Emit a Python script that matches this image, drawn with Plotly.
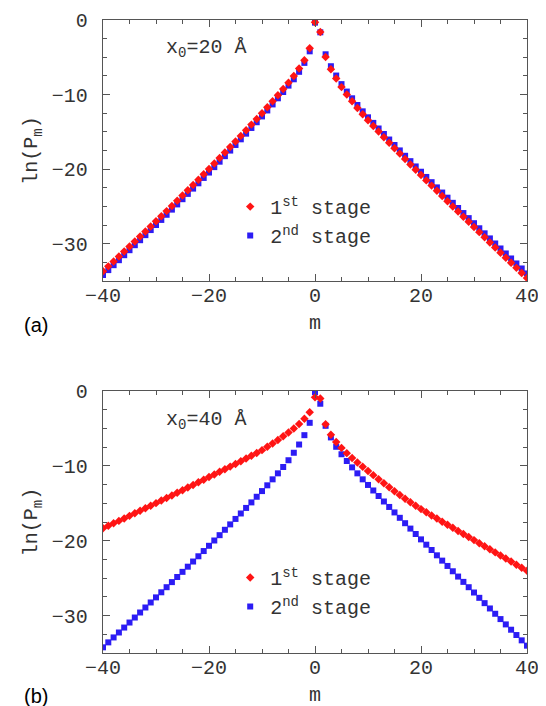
import plotly.graph_objects as go

# ---------------- data ----------------
m = list(range(-40, 41))

# panel (a): x0 = 20 A
stage1_a = [-33.7, -33.04, -32.38, -31.72, -31.05, -30.38, -29.71, -29.04, -28.36, -27.68,
            -27.0, -26.32, -25.63, -24.94, -24.24, -23.54, -22.84, -22.13, -21.42, -20.7,
            -19.98, -19.25, -18.52, -17.78, -17.04, -16.29, -15.54, -14.79, -14.03, -13.27,
            -12.5, -11.7, -10.9, -10.1, -9.25, -8.4, -7.5, -6.5, -5.4, -3.8,
            -0.3,
            -1.6, -4.95, -6.6, -7.85, -9.0, -10.0, -10.9, -11.8, -12.65, -13.45,
            -14.21, -14.96, -15.71, -16.45, -17.19, -17.92, -18.65, -19.37, -20.09, -20.8,
            -21.51, -22.21, -22.91, -23.61, -24.31, -25.0, -25.69, -26.38, -27.07, -27.76,
            -28.45, -29.14, -29.83, -30.52, -31.2, -31.88, -32.56, -33.24, -33.92, -34.6]
stage2_a = [-34.2, -33.54, -32.88, -32.21, -31.54, -30.87, -30.2, -29.53, -28.85, -28.17,
            -27.49, -26.81, -26.12, -25.43, -24.73, -24.03, -23.32, -22.61, -21.9, -21.18,
            -20.46, -19.73, -19.0, -18.26, -17.51, -16.76, -16.0, -15.24, -14.48, -13.71,
            -12.93, -12.13, -11.32, -10.5, -9.66, -8.8, -7.95, -6.95, -5.75, -4.2,
            -0.35,
            -1.65, -4.6, -6.2, -7.45, -8.6, -9.6, -10.5, -11.4, -12.25, -13.05,
            -13.8, -14.55, -15.29, -16.03, -16.76, -17.49, -18.21, -18.93, -19.64, -20.35,
            -21.05, -21.75, -22.45, -23.14, -23.83, -24.52, -25.21, -25.89, -26.57, -27.25,
            -27.93, -28.61, -29.29, -29.97, -30.64, -31.31, -31.98, -32.65, -33.32, -33.99]

# panel (b): x0 = 40 A
stage1_b = [-18.34, -18.01, -17.68, -17.35, -17.02, -16.68, -16.34, -16.0, -15.66, -15.32,
            -14.98, -14.64, -14.3, -13.95, -13.6, -13.25, -12.9, -12.55, -12.2, -11.85,
            -11.5, -11.15, -10.8, -10.45, -10.1, -9.74, -9.38, -9.02, -8.65, -8.28,
            -7.9, -7.45, -7.0, -6.55, -6.05, -5.55, -5.0, -4.4, -3.7, -2.85,
            -0.85,
            -1.0, -4.45, -5.85, -6.8, -7.6, -8.3, -8.95, -9.55, -10.13, -10.68,
            -11.24, -11.79, -12.33, -12.86, -13.38, -13.89, -14.39, -14.87, -15.33, -15.78,
            -16.2, -16.62, -17.04, -17.46, -17.87, -18.28, -18.69, -19.1, -19.51, -19.92,
            -20.33, -20.74, -21.15, -21.56, -21.97, -22.38, -22.79, -23.2, -23.61, -24.02]
stage2_b = [-34.24, -33.58, -32.92, -32.26, -31.6, -30.93, -30.26, -29.59, -28.92, -28.25,
            -27.57, -26.89, -26.21, -25.53, -24.85, -24.16, -23.47, -22.78, -22.08, -21.38,
            -20.68, -19.97, -19.26, -18.54, -17.82, -17.09, -16.36, -15.62, -14.88, -14.13,
            -13.37, -12.6, -11.8, -11.0, -10.15, -9.25, -8.25, -7.15, -5.9, -4.25,
            -0.15,
            -1.7, -4.65, -6.2, -7.45, -8.45, -9.35, -10.2, -11.0, -11.8, -12.55,
            -13.29, -14.03, -14.76, -15.49, -16.22, -16.94, -17.66, -18.38, -19.1, -19.82,
            -20.53, -21.24, -21.95, -22.66, -23.37, -24.08, -24.79, -25.5, -26.21, -26.92,
            -27.63, -28.34, -29.05, -29.76, -30.47, -31.18, -31.89, -32.6, -33.31, -34.02]

x_ticks = [-40, -20, 0, 20, 40]
y_ticks = [0, -10, -20, -30]
series_names = ["1<sup>st</sup> stage", "2<sup>nd</sup> stage"]
panel_labels = ["(a)", "(b)"]
x0_labels = ["x<sub>0</sub>=20 Å", "x<sub>0</sub>=40 Å"]

# ---------------- style ----------------
RED = "#ff1414"
BLUE = "#2c1cf4"
FRAME = "#555555"
TXT = "#333333"
MONO = "Liberation Mono"

fig = go.Figure()
panels = [(stage1_a, stage2_a, "x", "y", "legend"),
          (stage1_b, stage2_b, "x2", "y2", "legend2")]
for s1, s2, xa, ya, lg in panels:
    fig.add_trace(go.Scatter(x=m, y=s2, mode="markers", name=series_names[1],
                             marker=dict(symbol="square", size=6, color=BLUE),
                             xaxis=xa, yaxis=ya, legend=lg))
    fig.add_trace(go.Scatter(x=m, y=s1, mode="markers", name=series_names[0],
                             marker=dict(symbol="diamond", size=6.5, color=RED),
                             xaxis=xa, yaxis=ya, legend=lg))

def xaxis(anchor):
    return dict(range=[-40, 40], tickvals=x_ticks, ticks="inside", ticklen=7,
                tickwidth=1, tickcolor=FRAME,
                minor=dict(dtick=5, tick0=0, ticks="inside", ticklen=4, tickcolor=FRAME),
                showline=True, linecolor=FRAME, linewidth=1.3, mirror="allticks",
                showgrid=False, zeroline=False, anchor=anchor, automargin=False,
                tickfont=dict(family=MONO, size=20, color=TXT), ticklabelstandoff=-4,
                title=dict(text="m", font=dict(family=MONO, size=20, color=TXT), standoff=7))

def yaxis(anchor, domain):
    return dict(range=[-35, 0], tickvals=y_ticks, ticks="inside", ticklen=7,
                tickwidth=1, tickcolor=FRAME,
                minor=dict(dtick=2.5, tick0=0, ticks="inside", ticklen=4, tickcolor=FRAME),
                showline=True, linecolor=FRAME, linewidth=1.3, mirror="allticks",
                showgrid=False, zeroline=False, anchor=anchor, domain=domain, automargin=False,
                tickfont=dict(family=MONO, size=20, color=TXT), ticklabelstandoff=10,
                title=dict(text="ln(P<sub>m</sub>)", font=dict(family=MONO, size=20, color=TXT),
                           standoff=8))

legend_common = dict(xanchor="left", yanchor="top", bgcolor="rgba(0,0,0,0)",
                     font=dict(family=MONO, size=20, color=TXT), traceorder="reversed",
                     tracegroupgap=0)

fig.update_layout(
    width=546, height=706,
    margin=dict(l=95, r=27, t=12, b=61, autoexpand=False),
    paper_bgcolor="white", plot_bgcolor="white",
    xaxis=xaxis("y"), yaxis=yaxis("x", [0.5877, 1.0]),
    xaxis2=xaxis("y2"), yaxis2=yaxis("x2", [0.0, 0.4139]),
    legend=dict(x=0.30, y=0.736, **legend_common),
    legend2=dict(x=0.30, y=0.150, **legend_common),
    annotations=[
        dict(text=x0_labels[0], x=-28.5, y=-3.8, xref="x", yref="y", xanchor="left",
             showarrow=False, font=dict(family=MONO, size=20, color=TXT)),
        dict(text=x0_labels[1], x=-28.5, y=-3.9, xref="x2", yref="y2", xanchor="left",
             showarrow=False, font=dict(family=MONO, size=20, color=TXT)),
        dict(text=panel_labels[0], x=-0.19, y=0.518, xref="paper", yref="paper",
             xanchor="left", yanchor="middle", showarrow=False,
             font=dict(family="Liberation Sans", size=20, color="black")),
        dict(text=panel_labels[1], x=-0.19, y=-0.068, xref="paper", yref="paper",
             xanchor="left", yanchor="middle", showarrow=False,
             font=dict(family="Liberation Sans", size=20, color="black")),
    ],
    showlegend=True,
)

fig.write_html("out.html")
